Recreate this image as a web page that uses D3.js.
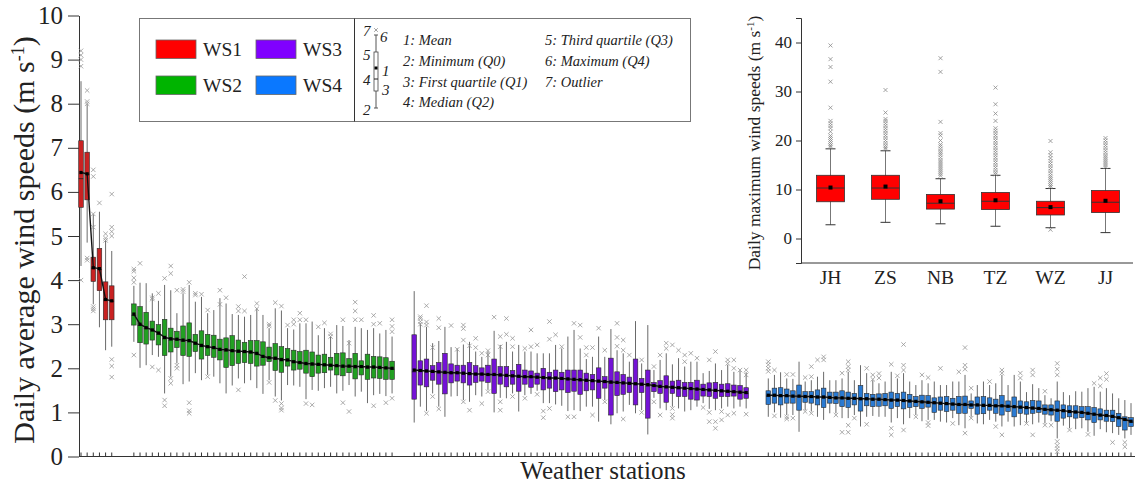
<!DOCTYPE html>
<html>
<head>
<meta charset="utf-8">
<script src="https://cdn.jsdelivr.net/npm/d3@7"></script>
<style>
  body { margin: 0; background: #fff; }
  text { font-family: "Liberation Serif", "Times New Roman", serif; fill: #222; }
</style>
</head>
<body>
<script>
// box statistics for each weather station (m/s)
// WS1
var ws1Min = [4.32, 4.85, 3.45, 2.93, 2.41, 2.49];
var ws1Q1 = [5.65, 5.82, 3.97, 3.76, 3.10, 3.10];
var ws1Med = [6.30, 6.40, 4.27, 4.24, 3.55, 3.52];
var ws1Q3 = [7.16, 6.90, 4.52, 4.72, 3.96, 3.87];
var ws1Max = [8.51, 7.99, 5.49, 5.55, 4.91, 4.66];
var ws1Mean = [6.44, 6.41, 4.28, 4.26, 3.56, 3.53];
var ws1Out = [[0,9.2],[0,9.1],[0,9.0],[0,8.85],[0,4.0],[1,8.3],[1,8.05],[1,8.0],[1,4.5],[1,4.45],[2,6.5],[2,6.35],[2,5.5],[2,5.2],[2,3.4],[2,3.35],[2,3.3],[3,5.75],[4,5.05],[4,4.95],[4,4.9],[5,5.95],[5,5.2],[5,5.1],[5,5.0],[5,2.2],[5,2.05],[5,1.8]];

// WS2
var ws2Min = [2.60,2.01,2.07,2.30,2.26,1.43,1.81,2.11,1.64,1.70,1.89,1.73,1.85,1.81,1.66,1.43,1.61,1.77,1.66,1.73,1.55,1.42,1.73,1.36,1.27,1.62,1.61,1.58,1.30,1.51,1.49,1.55,1.58,1.43,1.49,1.62,1.36,1.47,1.21,1.39,1.42,1.37,1.43];
var ws2Q1 = [2.98,2.58,2.55,2.64,2.53,2.29,2.37,2.47,2.29,2.27,2.38,2.21,2.29,2.25,2.19,2.02,2.06,2.11,2.13,2.11,2.05,2.07,2.15,1.95,1.91,2.05,1.96,1.98,1.89,1.81,1.89,1.90,1.96,1.85,1.83,1.90,1.76,1.85,1.75,1.78,1.77,1.75,1.75];
var ws2Med = [3.20,2.97,2.90,2.85,2.77,2.67,2.64,2.64,2.61,2.60,2.55,2.49,2.47,2.45,2.41,2.39,2.38,2.36,2.36,2.35,2.31,2.25,2.22,2.20,2.17,2.17,2.13,2.11,2.08,2.07,2.07,2.06,2.05,2.04,2.02,2.03,2.01,2.02,2.00,2.01,2.00,1.99,1.98];
var ws2Q3 = [3.46,3.40,3.27,3.07,2.99,3.11,2.91,2.84,2.96,3.03,2.77,2.85,2.77,2.75,2.66,2.69,2.74,2.64,2.59,2.63,2.63,2.60,2.48,2.56,2.49,2.45,2.41,2.38,2.41,2.37,2.30,2.32,2.25,2.34,2.35,2.22,2.34,2.17,2.32,2.27,2.26,2.24,2.16];
var ws2Max = [3.87,3.94,3.93,3.70,3.53,3.89,3.77,3.25,3.70,3.89,3.51,3.62,3.25,3.32,3.59,3.47,3.23,3.21,3.17,3.21,3.36,3.21,2.91,3.36,3.31,2.91,2.88,3.02,3.02,3.06,2.75,2.91,2.72,2.98,2.96,2.64,2.94,2.91,2.87,2.91,2.79,2.87,2.72];
var ws2Mean = [3.23,3.00,2.92,2.87,2.80,2.70,2.67,2.66,2.64,2.63,2.57,2.52,2.49,2.47,2.43,2.42,2.40,2.39,2.38,2.37,2.34,2.27,2.24,2.23,2.20,2.19,2.15,2.13,2.11,2.10,2.09,2.08,2.07,2.06,2.05,2.05,2.04,2.04,2.03,2.03,2.02,2.01,2.00];
var ws2Out = [[0,4.25],[0,4.2],[0,4.05],[0,3.95],[0,2.3],[1,4.38],[3,3.6],[3,3.57],[3,2.03],[4,3.70],[4,1.96],[5,4.04],[5,1.28],[5,1.15],[6,4.32],[6,4.15],[6,1.77],[6,1.66],[7,3.77],[7,2.07],[7,2.0],[8,3.79],[8,3.74],[9,3.95],[9,1.22],[9,1.04],[9,0.98],[10,3.70],[10,3.66],[11,3.68],[12,3.32],[12,1.81],[14,3.77],[14,3.45],[15,3.6],[17,3.4],[17,3.3],[17,1.51],[18,4.08],[18,3.3],[20,3.47],[20,3.35],[22,3.0],[22,2.96],[22,1.68],[23,3.49],[23,1.27],[24,3.41],[24,1.2],[24,1.1],[24,1.05],[25,2.98],[26,3.1],[26,3.0],[27,3.25],[27,3.1],[28,3.1],[28,1.2],[29,1.17],[30,2.94],[31,3.03],[32,2.78],[32,2.72],[34,3.1],[34,1.22],[35,2.57],[35,1.02],[36,3.5],[36,3.3],[36,3.1],[37,3.1],[39,3.2],[39,3.0],[39,1.15],[40,3.02],[41,1.22],[42,3.1],[42,2.95],[42,2.83],[42,1.32]];

// WS3
var ws3Min = [0.77,1.13,1.03,1.43,1.13,0.90,1.36,1.37,1.28,1.24,1.39,1.36,1.51,1.00,1.33,1.32,1.43,1.02,1.39,1.42,1.49,1.21,1.21,1.18,1.15,1.03,1.05,1.03,1.13,1.13,0.79,1.28,0.73,0.98,1.02,1.17,0.98,1.05,0.50,1.33,1.09,1.05,1.13,1.09,1.02,1.05,1.13,1.21,1.08,1.05,1.09,1.13,1.09,1.13,1.09];
var ws3Q1 = [1.30,1.62,1.58,1.73,1.64,1.42,1.67,1.71,1.67,1.62,1.68,1.71,1.68,1.43,1.64,1.58,1.64,1.48,1.64,1.57,1.64,1.51,1.55,1.47,1.51,1.45,1.48,1.41,1.49,1.51,1.32,1.55,0.94,1.38,1.41,1.45,1.17,1.45,0.87,1.47,1.43,1.23,1.43,1.36,1.36,1.30,1.28,1.37,1.36,1.32,1.36,1.36,1.37,1.30,1.32];
var ws3Med = [1.92,1.93,1.92,1.91,1.90,1.88,1.88,1.88,1.87,1.86,1.85,1.85,1.84,1.84,1.83,1.82,1.81,1.80,1.79,1.79,1.78,1.77,1.76,1.76,1.75,1.74,1.73,1.72,1.71,1.70,1.69,1.68,1.66,1.66,1.65,1.64,1.63,1.62,1.60,1.59,1.57,1.56,1.55,1.54,1.53,1.52,1.51,1.50,1.49,1.48,1.47,1.46,1.45,1.44,1.43];
var ws3Q3 = [2.76,2.17,2.21,2.06,2.13,2.34,2.10,2.07,2.07,2.13,2.06,2.01,2.07,2.21,2.04,2.04,1.95,2.09,1.96,1.94,1.89,2.00,1.91,1.96,1.91,1.96,1.96,1.96,1.89,1.86,2.01,1.81,2.23,1.92,1.86,1.80,2.21,1.77,1.96,1.68,1.72,1.83,1.71,1.73,1.68,1.68,1.73,1.64,1.67,1.68,1.64,1.65,1.62,1.61,1.56];
var ws3Max = [3.75,3.02,2.94,2.57,2.62,2.94,2.48,2.45,2.54,2.60,2.38,2.26,2.38,2.85,2.53,2.60,2.38,2.53,2.38,2.38,2.34,2.34,2.34,2.53,2.45,2.72,2.87,2.45,2.21,2.26,2.72,2.26,2.89,2.41,2.34,2.15,3.07,2.11,2.98,1.96,2.19,2.34,2.09,2.23,2.04,2.15,2.15,1.89,1.94,2.11,1.96,2.08,1.92,1.94,1.91];
var ws3Mean = [1.96,1.95,1.94,1.93,1.92,1.91,1.90,1.90,1.89,1.88,1.87,1.87,1.86,1.86,1.85,1.84,1.83,1.82,1.81,1.81,1.80,1.79,1.78,1.78,1.77,1.76,1.75,1.74,1.73,1.72,1.71,1.70,1.69,1.68,1.67,1.66,1.65,1.64,1.63,1.61,1.59,1.58,1.57,1.56,1.55,1.54,1.53,1.52,1.51,1.50,1.49,1.48,1.47,1.46,1.45];
var ws3Out = [[1,3.17],[1,3.13],[1,3.06],[1,3.0],[2,3.42],[2,3.05],[2,2.98],[2,0.98],[3,2.47],[3,1.36],[4,3.13],[4,2.92],[4,1.08],[6,2.97],[7,2.43],[8,2.98],[8,2.9],[8,2.64],[8,1.24],[9,2.51],[9,1.05],[10,2.68],[10,2.47],[11,2.34],[11,1.20],[12,2.4],[12,2.3],[12,1.47],[13,3.16],[14,2.72],[14,2.49],[14,1.24],[14,1.05],[15,3.13],[15,2.77],[16,2.68],[16,2.49],[16,1.36],[18,2.45],[18,1.32],[19,2.87],[19,2.49],[20,2.53],[20,1.41],[21,1.03],[21,0.88],[22,3.06],[22,2.66],[22,1.09],[23,2.76],[24,2.49],[25,0.90],[26,3.02],[26,0.90],[27,2.98],[27,2.7],[28,2.47],[28,2.3],[29,2.47],[29,0.94],[30,2.91],[31,2.41],[31,1.24],[33,3.02],[33,2.7],[33,2.5],[34,2.64],[34,2.41],[34,0.85],[35,2.30],[37,2.19],[37,1.0],[39,2.04],[39,1.24],[40,2.30],[40,0.94],[41,2.57],[41,2.45],[42,2.53],[42,1.09],[42,0.95],[42,0.87],[43,2.41],[44,2.3],[44,2.15],[45,2.34],[46,2.23],[47,1.11],[48,2.19],[48,1.0],[48,0.79],[49,2.38],[49,0.79],[49,0.64],[50,1.02],[50,0.83],[51,2.19],[51,2.11],[51,0.94],[52,2.19],[52,2.0],[52,0.98],[53,1.96],[54,1.96],[54,1.85],[54,0.96]];

// WS4
var ws4Min = [0.90,1.00,0.88,0.94,0.94,0.56,1.05,1.02,0.90,0.83,0.98,0.98,0.87,0.87,0.94,0.68,0.90,0.92,0.90,0.90,0.77,0.87,0.73,0.87,0.94,0.80,0.83,0.83,0.79,0.77,0.87,0.71,0.64,0.90,0.75,0.73,0.83,0.79,0.68,0.79,0.68,0.71,0.77,0.73,0.77,0.75,0.80,0.41,0.70,0.64,0.62,0.64,0.56,0.47,0.62,0.55,0.53,0.49,0.41,0.49];
var ws4Q1 = [1.18,1.21,1.17,1.21,1.21,1.05,1.23,1.21,1.17,1.11,1.21,1.20,1.13,1.11,1.17,1.03,1.15,1.13,1.14,1.15,1.09,1.13,1.08,1.11,1.13,1.09,1.12,1.00,1.05,1.02,1.05,0.98,0.98,1.09,0.96,0.97,1.05,0.98,0.94,1.02,0.90,0.98,0.96,0.98,1.00,0.96,0.94,0.80,0.87,0.90,0.87,0.88,0.83,0.77,0.83,0.80,0.79,0.68,0.60,0.68];
var ws4Med = [1.37,1.37,1.36,1.36,1.35,1.35,1.34,1.34,1.33,1.33,1.32,1.31,1.31,1.30,1.30,1.29,1.29,1.28,1.28,1.27,1.26,1.26,1.25,1.24,1.23,1.22,1.21,1.20,1.19,1.18,1.17,1.16,1.16,1.15,1.15,1.14,1.14,1.13,1.13,1.12,1.11,1.10,1.09,1.08,1.07,1.05,1.04,1.03,1.02,1.00,0.99,0.98,0.96,0.94,0.92,0.91,0.89,0.86,0.82,0.78];
var ws4Q3 = [1.49,1.55,1.56,1.53,1.49,1.62,1.47,1.47,1.51,1.55,1.46,1.46,1.49,1.46,1.43,1.61,1.43,1.41,1.42,1.43,1.46,1.43,1.46,1.41,1.36,1.39,1.38,1.33,1.35,1.36,1.32,1.36,1.37,1.26,1.35,1.36,1.33,1.30,1.38,1.26,1.35,1.26,1.24,1.27,1.26,1.17,1.17,1.26,1.17,1.15,1.15,1.13,1.13,1.11,1.08,1.05,1.05,0.98,0.90,0.88];
var ws4Max = [1.77,1.85,1.91,1.77,1.76,2.15,1.70,1.73,1.81,1.92,1.73,1.73,1.77,1.92,1.73,2.07,1.89,1.73,1.66,1.70,1.92,1.77,1.89,1.70,1.62,1.73,1.66,1.70,1.62,1.62,1.70,1.70,1.85,1.43,1.62,1.70,1.62,1.66,1.85,1.62,1.85,1.70,1.46,1.64,1.55,1.39,1.32,1.70,1.46,1.39,1.48,1.47,1.55,1.58,1.47,1.55,1.43,1.32,1.28,1.21];
var ws4Mean = [1.39,1.39,1.38,1.38,1.37,1.37,1.36,1.36,1.35,1.35,1.34,1.33,1.33,1.32,1.32,1.31,1.31,1.30,1.30,1.29,1.28,1.28,1.27,1.26,1.25,1.24,1.23,1.22,1.21,1.20,1.19,1.18,1.18,1.17,1.17,1.16,1.16,1.15,1.15,1.14,1.13,1.12,1.11,1.10,1.09,1.07,1.06,1.05,1.04,1.02,1.01,1.00,0.98,0.96,0.94,0.93,0.91,0.88,0.84,0.80];
var ws4Out = [[0,2.15],[0,2.08],[0,2.0],[0,1.93],[1,1.96],[1,0.92],[3,1.86],[3,0.9],[3,0.85],[4,1.86],[4,0.87],[6,1.79],[6,1.02],[7,2.04],[7,1.81],[7,0.98],[8,2.19],[9,2.26],[9,2.19],[11,0.94],[12,1.89],[12,0.55],[13,2.15],[13,2.04],[13,1.96],[13,0.71],[13,0.55],[14,0.87],[16,2.0],[16,0.73],[17,1.85],[17,1.75],[18,1.88],[18,1.78],[20,2.09],[20,0.64],[20,0.49],[21,1.83],[22,2.54],[22,2.07],[22,1.96],[22,0.6],[24,0.9],[25,1.85],[26,1.79],[26,0.77],[26,0.70],[28,2.0],[30,0.75],[31,1.92],[32,2.47],[32,2.07],[32,1.98],[32,0.53],[33,1.55],[33,0.87],[36,1.70],[37,0.68],[38,1.96],[38,1.89],[38,0.49],[41,1.89],[41,1.78],[42,0.75],[43,1.96],[43,1.85],[43,0.49],[45,1.48],[45,0.71],[46,0.71],[47,2.11],[47,1.98],[47,1.85],[47,0.34],[47,0.25],[47,0.18],[47,0.11],[49,0.6],[52,0.5],[53,1.66],[54,1.78],[54,1.6],[55,1.88],[55,1.75],[56,0.32],[58,0.32],[58,0.22]];

// inset: daily maximum wind speeds for six stations
var insetCats = ["JH", "ZS", "NB", "TZ", "WZ", "JJ"];
var insetMin = [2.8, 3.3, 3.0, 2.5, 2.2, 1.2];
var insetQ1 = [7.5, 8.0, 6.0, 5.9, 4.8, 5.3];
var insetMed = [10.3, 10.3, 7.2, 7.6, 6.3, 7.4];
var insetQ3 = [12.9, 12.9, 9.0, 9.4, 7.6, 9.8];
var insetMax = [18.3, 17.9, 12.2, 12.9, 10.2, 14.3];
var insetMean = [10.4, 10.6, 7.6, 7.8, 6.4, 7.7];
var insetOut = [
  [39.4, 36.6, 35.0, 32.0, 26.7, 24.0, 23.5, 23.0, 22.5, 21.8, 21.0, 20.6, 20.2, 19.8, 19.4, 19.0, 18.7],
  [30.3, 25.7, 24.4, 24.0, 23.5, 23.0, 22.5, 22.0, 21.5, 21.0, 20.5, 20.0, 19.5, 19.0, 18.6, 18.3],
  [36.8, 34.0, 23.8, 21.5, 21.0, 20.0, 19.2, 18.8, 18.3, 17.8, 17.4, 17.0, 16.5, 16.0, 15.6, 15.2, 14.8, 14.4, 14.0, 13.6, 13.2, 12.8],
  [30.8, 27.4, 25.5, 24.0, 22.5, 22.0, 21.5, 21.0, 20.5, 20.0, 19.5, 19.0, 18.5, 18.0, 17.5, 17.0, 16.5, 16.0, 15.5, 15.0, 14.5, 14.0, 13.5, 13.1],
  [19.9, 17.6, 17.0, 16.4, 15.8, 15.3, 14.8, 14.3, 13.8, 13.3, 12.8, 12.4, 12.0, 11.6, 11.2, 10.8, 10.5, 1.8],
  [20.5, 20.0, 19.5, 19.0, 18.5, 18.0, 17.5, 17.0, 16.6, 16.2, 15.8, 15.4, 15.0, 14.6]
];

var groupNames = ["WS1", "WS2", "WS3", "WS4"];
var groupColors = ["#c92222", "#22a022", "#7412d6", "#2a7ad2"];
var legendColors = ["#ff0000", "#00b400", "#8000ff", "#0a78ff"];

var svgWidth = 1135;
var svgHeight = 486;

var svg = d3
  .select("body")
  .append("svg")
  .attr("width", svgWidth)
  .attr("height", svgHeight);

// build box rows for each group
function makeRows(mn, q1, md, q3, mx, mean) {
  return mn.map(function (d, i) {
    return { min: d, q1: q1[i], med: md[i], q3: q3[i], max: mx[i], mean: mean[i] };
  });
}

// little "x" marker path for outliers
function crossPath(cx, cy, s) {
  return "M" + (cx - s) + "," + (cy - s) + "L" + (cx + s) + "," + (cy + s) +
    "M" + (cx - s) + "," + (cy + s) + "L" + (cx + s) + "," + (cy - s);
}

var groups = [
  { rows: makeRows(ws1Min, ws1Q1, ws1Med, ws1Q3, ws1Max, ws1Mean), out: ws1Out },
  { rows: makeRows(ws2Min, ws2Q1, ws2Med, ws2Q3, ws2Max, ws2Mean), out: ws2Out },
  { rows: makeRows(ws3Min, ws3Q1, ws3Med, ws3Q3, ws3Max, ws3Mean), out: ws3Out },
  { rows: makeRows(ws4Min, ws4Q1, ws4Med, ws4Q3, ws4Max, ws4Mean), out: ws4Out },
];

// station index with a gap between groups
var gap = 3.6;
var start = 0;
groups.forEach(function (g) {
  g.start = start;
  start += g.rows.length - 1 + gap;
});
var lastIndex = start - gap;

var x = d3.scaleLinear().domain([0, lastIndex]).range([81, 1131]);
var y = d3.scaleLinear().domain([0, 10]).range([456.5, 15.5]);

// main y axis
var yAxis = svg
  .append("g")
  .attr("transform", "translate(79,0)")
  .call(d3.axisLeft(y).ticks(10).tickSize(11).tickSizeOuter(0).tickPadding(5));
yAxis.select(".domain").attr("stroke", "#333");
yAxis.selectAll(".tick line").attr("stroke", "#333");
yAxis.selectAll("text").style("font-size", "25px").attr("fill", "#222").style("font-family", "Liberation Serif");

// x axis line with small inside ticks at each station
svg
  .append("line")
  .attr("x1", 79)
  .attr("x2", 1135)
  .attr("y1", y(0))
  .attr("y2", y(0))
  .attr("stroke", "#333");

var boxW = 4.6;

groups.forEach(function (g, gi) {
  var gg = svg.append("g");
  var px = function (i) { return x(g.start + i); };

  gg.selectAll(".tk")
    .data(g.rows)
    .enter()
    .append("line")
    .attr("x1", (d, i) => px(i))
    .attr("x2", (d, i) => px(i))
    .attr("y1", y(0))
    .attr("y2", y(0) - 4)
    .attr("stroke", "#333");

  // whiskers
  gg.selectAll(".wh")
    .data(g.rows)
    .enter()
    .append("line")
    .attr("x1", (d, i) => px(i))
    .attr("x2", (d, i) => px(i))
    .attr("y1", (d) => y(d.max))
    .attr("y2", (d) => y(d.min))
    .attr("stroke", "#6a6a6a")
    .attr("stroke-width", 1);

  // outliers
  gg.selectAll(".ol")
    .data(g.out)
    .enter()
    .append("path")
    .attr("d", (d) => crossPath(px(d[0]), y(d[1]), 2.2))
    .attr("stroke", "#959595")
    .attr("stroke-width", 0.8)
    .attr("fill", "none");

  // boxes
  gg.selectAll(".bx")
    .data(g.rows)
    .enter()
    .append("rect")
    .attr("x", (d, i) => px(i) - boxW / 2)
    .attr("width", boxW)
    .attr("y", (d) => y(d.q3))
    .attr("height", (d) => y(d.q1) - y(d.q3))
    .attr("fill", groupColors[gi])
    .attr("stroke", "#2b2b2b")
    .attr("stroke-width", 0.6);

  // medians
  gg.selectAll(".md")
    .data(g.rows)
    .enter()
    .append("line")
    .attr("x1", (d, i) => px(i) - boxW / 2)
    .attr("x2", (d, i) => px(i) + boxW / 2)
    .attr("y1", (d) => y(d.med))
    .attr("y2", (d) => y(d.med))
    .attr("stroke", "#222")
    .attr("stroke-width", 0.8);

  // mean line and mean dots
  var meanLine = d3
    .line()
    .x((d, i) => px(i))
    .y((d) => y(d.mean));

  gg.append("path")
    .datum(g.rows)
    .attr("d", meanLine)
    .attr("fill", "none")
    .attr("stroke", "#111")
    .attr("stroke-width", 1.4);

  gg.selectAll(".mn")
    .data(g.rows)
    .enter()
    .append("rect")
    .attr("x", (d, i) => px(i) - 1.6)
    .attr("y", (d) => y(d.mean) - 1.6)
    .attr("width", 3.2)
    .attr("height", 3.2)
    .attr("fill", "#000");
});

// axis titles
var yTitle = svg
  .append("text")
  .attr("transform", "translate(34,240) rotate(-90)")
  .attr("text-anchor", "middle")
  .style("font-size", "30px");
yTitle.append("tspan").text("Daily average wind speeds (m s");
yTitle.append("tspan").attr("baseline-shift", "super").style("font-size", "18px").text("-1");
yTitle.append("tspan").text(")");

svg
  .append("text")
  .attr("x", 603)
  .attr("y", 479)
  .attr("text-anchor", "middle")
  .style("font-size", "25px")
  .text("Weather stations");

// legend
var leg = svg.append("g");
leg.append("rect")
  .attr("x", 139.5)
  .attr("y", 18.5)
  .attr("width", 551)
  .attr("height", 103)
  .attr("fill", "#fff")
  .attr("stroke", "#777")
  .attr("stroke-width", 1);
leg.append("line")
  .attr("x1", 354.5)
  .attr("x2", 354.5)
  .attr("y1", 18.5)
  .attr("y2", 121.5)
  .attr("stroke", "#333");

var legPos = [[156, 40], [156, 76], [256, 40], [256, 76]];
groupNames.forEach(function (name, i) {
  leg.append("rect")
    .attr("x", legPos[i][0])
    .attr("y", legPos[i][1])
    .attr("width", 40)
    .attr("height", 18.5)
    .attr("fill", legendColors[i])
    .attr("stroke", "#666")
    .attr("stroke-width", 0.8);
  leg.append("text")
    .attr("x", legPos[i][0] + 47)
    .attr("y", legPos[i][1] + 16)
    .style("font-size", "19.5px")
    .text(name);
});

// small box plot key
var kx = 376;
leg.append("line").attr("x1", kx).attr("x2", kx).attr("y1", 35).attr("y2", 108).attr("stroke", "#555");
leg.append("rect").attr("x", kx - 2).attr("y", 52).attr("width", 4).attr("height", 39)
  .attr("fill", "#fff").attr("stroke", "#444").attr("stroke-width", 0.8);
leg.append("line").attr("x1", kx - 2).attr("x2", kx + 2).attr("y1", 79).attr("y2", 79).attr("stroke", "#222");
leg.append("rect").attr("x", kx - 1.5).attr("y", 66.5).attr("width", 3).attr("height", 3).attr("fill", "#000");
leg.append("path").attr("d", crossPath(376, 30, 1.8)).attr("stroke", "#888").attr("stroke-width", 0.8);
leg.append("line").attr("x1", kx - 2).attr("x2", kx + 2).attr("y1", 35).attr("y2", 35).attr("stroke", "#555");
leg.append("line").attr("x1", kx - 2).attr("x2", kx + 2).attr("y1", 108).attr("y2", 108).attr("stroke", "#555");

var keyNums = [["7", 363, 36], ["6", 380, 42], ["5", 363, 60], ["1", 382, 76], ["4", 363, 85], ["3", 382, 95], ["2", 363, 115]];
keyNums.forEach(function (k) {
  leg.append("text")
    .attr("x", k[1])
    .attr("y", k[2])
    .style("font-size", "15px")
    .style("font-style", "italic")
    .text(k[0]);
});

var keyText = [
  ["1: Mean", 403, 45], ["2: Minimum (Q0)", 403, 66], ["3: First quartile (Q1)", 403, 87], ["4: Median (Q2)", 403, 107],
  ["5: Third quartile (Q3)", 545, 45], ["6: Maximum (Q4)", 545, 66], ["7: Outlier", 545, 87],
];
keyText.forEach(function (k) {
  leg.append("text")
    .attr("x", k[1])
    .attr("y", k[2])
    .style("font-size", "14.5px")
    .style("font-style", "italic")
    .text(k[0]);
});

// inset chart
var xIn = d3.scalePoint().domain(insetCats).range([803, 1133]).padding(0.5);
var yIn = d3.scaleLinear().domain([-5, 45]).range([263, 18]);

var inset = svg.append("g");

var yInAxis = inset
  .append("g")
  .attr("transform", "translate(801,0)")
  .call(d3.axisLeft(yIn).tickValues([0, 10, 20, 30, 40]).tickSize(5).tickSizeOuter(5).tickPadding(4));
yInAxis.select(".domain").attr("stroke", "#333");
yInAxis.selectAll(".tick line").attr("stroke", "#333");
yInAxis.selectAll("text").style("font-size", "17px").attr("fill", "#222").style("font-family", "Liberation Serif");

inset.append("line")
  .attr("x1", 801)
  .attr("x2", 1133)
  .attr("y1", 263)
  .attr("y2", 263)
  .attr("stroke", "#333");

inset.selectAll(".cl")
  .data(insetCats)
  .enter()
  .append("text")
  .attr("x", (d) => xIn(d))
  .attr("y", 284)
  .attr("text-anchor", "middle")
  .style("font-size", "19.5px")
  .text((d) => d);

var inBoxW = 28;
insetCats.forEach(function (c, i) {
  var cx = xIn(c);
  inset.append("line").attr("x1", cx).attr("x2", cx).attr("y1", yIn(insetMax[i])).attr("y2", yIn(insetMin[i]))
    .attr("stroke", "#777");
  [insetMax[i], insetMin[i]].forEach(function (v) {
    inset.append("line").attr("x1", cx - 5).attr("x2", cx + 5).attr("y1", yIn(v)).attr("y2", yIn(v))
      .attr("stroke", "#333");
  });
  insetOut[i].forEach(function (v) {
    inset.append("path")
      .attr("d", crossPath(cx, yIn(v), 2))
      .attr("stroke", "#8a8a8a")
      .attr("stroke-width", 0.8);
  });
  inset.append("rect")
    .attr("x", cx - inBoxW / 2)
    .attr("width", inBoxW)
    .attr("y", yIn(insetQ3[i]))
    .attr("height", yIn(insetQ1[i]) - yIn(insetQ3[i]))
    .attr("fill", "#ff0000")
    .attr("stroke", "#333")
    .attr("stroke-width", 0.8);
  inset.append("line").attr("x1", cx - inBoxW / 2).attr("x2", cx + inBoxW / 2)
    .attr("y1", yIn(insetMed[i])).attr("y2", yIn(insetMed[i])).attr("stroke", "#333");
  inset.append("rect").attr("x", cx - 2).attr("y", yIn(insetMean[i]) - 2).attr("width", 4).attr("height", 4).attr("fill", "#000");
});

var yInTitle = inset
  .append("text")
  .attr("transform", "translate(760,143) rotate(-90)")
  .attr("text-anchor", "middle")
  .style("font-size", "17.5px");
yInTitle.append("tspan").text("Daily maximum wind speeds (m s");
yInTitle.append("tspan").attr("baseline-shift", "super").style("font-size", "11px").text("-1");
yInTitle.append("tspan").text(")");
</script>
</body>
</html>
